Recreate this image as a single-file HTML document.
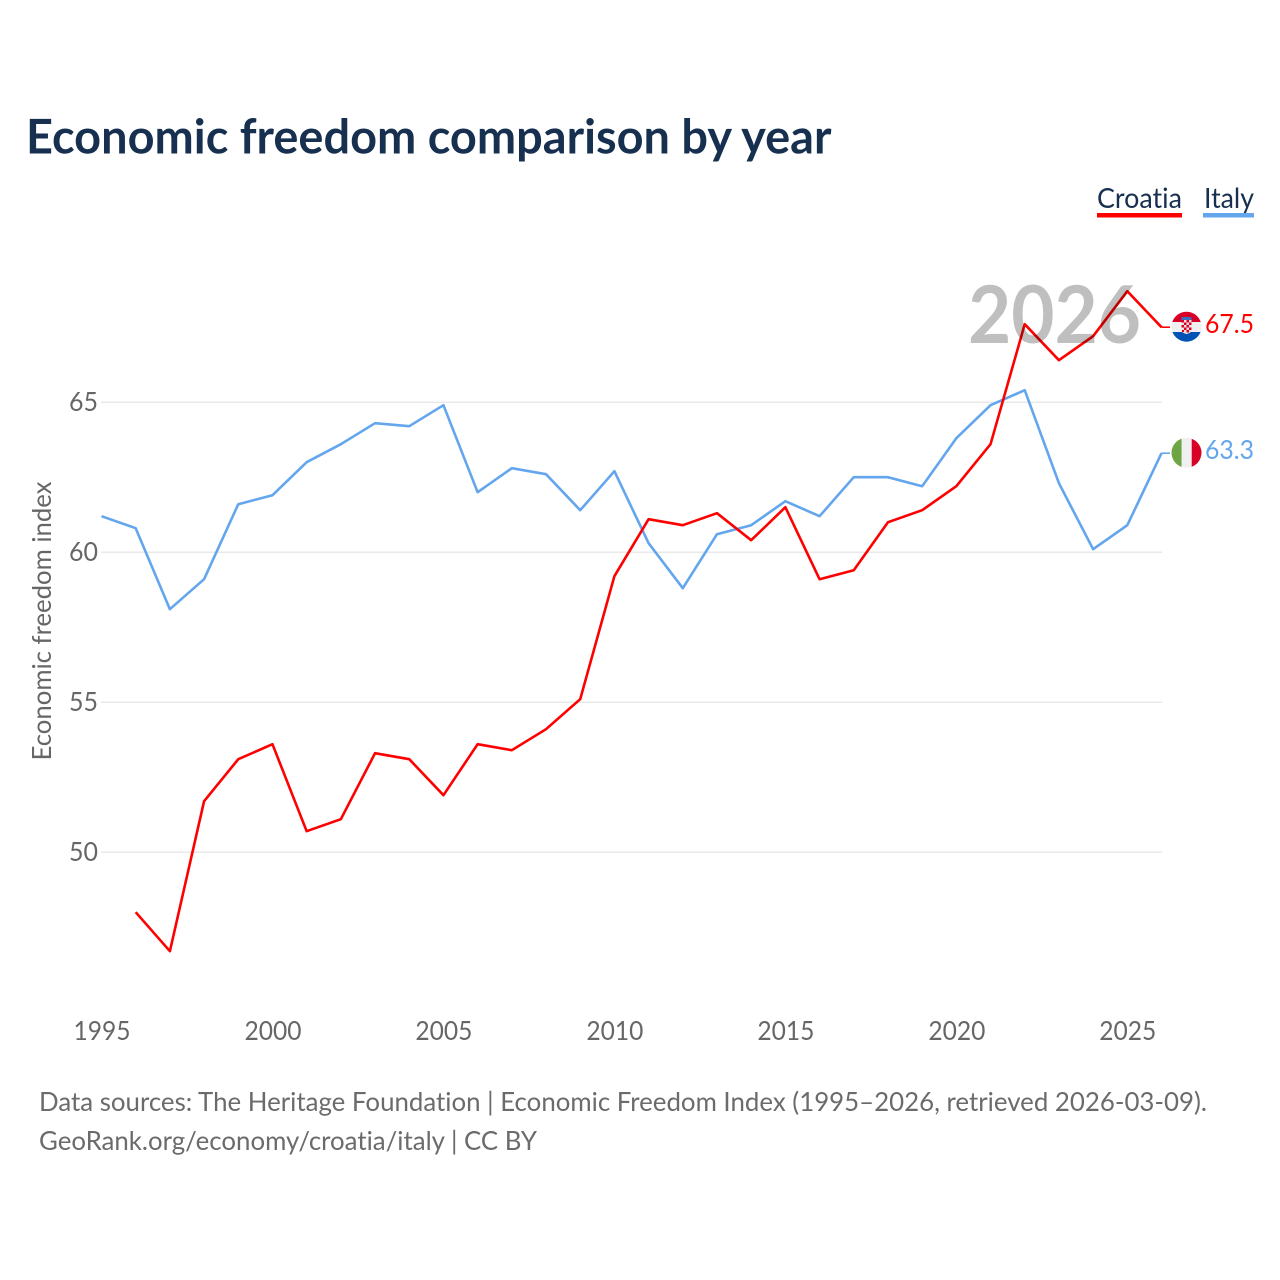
<!DOCTYPE html>
<html lang="en">
<head>
<meta charset="utf-8">
<title>Economic freedom comparison by year</title>
<style>
html,body{margin:0;padding:0;background:#fff}
svg{display:block}
text{font-family:"Lato","Carlito","Liberation Sans",sans-serif;font-variant-ligatures:none;font-feature-settings:"liga" 0,"clig" 0,"dlig" 0}
</style>
</head>
<body>
<svg id="chart" xmlns="http://www.w3.org/2000/svg" width="1280" height="1280" viewBox="0 0 1280 1280">
  <defs>
    <clipPath id="flag-clip-hr"><circle cx="1186.5" cy="326.7" r="15"/></clipPath>
    <clipPath id="flag-clip-it"><circle cx="1186.5" cy="452.8" r="15"/></clipPath>
  </defs>
  <rect width="1280" height="1280" fill="#fff"/>

  <text x="26" y="153.5" font-size="48" font-weight="700" fill="#18304f" textLength="805.5" lengthAdjust="spacingAndGlyphs">Economic freedom comparison by year</text>

  <g>
    <g>
      <text x="1097" y="208" font-size="28" fill="#18304f" textLength="85" lengthAdjust="spacingAndGlyphs">Croatia</text>
      <rect x="1097" y="213" width="85" height="4.5" fill="#ff0000"/>
    </g>
    <g>
      <text x="1204" y="208" font-size="28" fill="#18304f" textLength="50" lengthAdjust="spacingAndGlyphs">Italy</text>
      <rect x="1203" y="213" width="51" height="4.5" fill="#63a6ee"/>
    </g>
  </g>

  <g id="grid"></g>
  <g id="y-ticks"></g>
  <g id="x-ticks"></g>
  <text transform="translate(51 621) rotate(-90)" text-anchor="middle" font-size="26" fill="#666" textLength="279" lengthAdjust="spacingAndGlyphs">Economic freedom index</text>

  <g id="series"></g>

  <text x="1141" y="343" text-anchor="end" font-size="80" font-weight="700" fill="#000" fill-opacity="0.25" textLength="173" lengthAdjust="spacingAndGlyphs">2026</text>

  <g clip-path="url(#flag-clip-hr)">
    <rect x="1171" y="311" width="31" height="11" fill="#d80027"/>
    <rect x="1171" y="322" width="31" height="10" fill="#f0f0f0"/>
    <rect x="1171" y="332" width="31" height="11" fill="#0052b4"/>
    <rect x="1181.5" y="317" width="10" height="4" fill="#3a6fc0"/>
    <path d="M1181.500 320h10v10q0 3-5 4q-5-1-5-4z" fill="#f3dede"/>
    <path d="M1181.500 320h2.500v2.500h-2.500zM1186.500 320h2.500v2.500h-2.500zM1184 322.500h2.500v2.500h-2.500zM1189 322.500h2.500v2.500h-2.500zM1181.500 325h2.500v2.500h-2.500zM1186.500 325h2.500v2.500h-2.500zM1184 327.500h2.500v2.500h-2.500zM1189 327.500h2.500v2.500h-2.500zM1186.500 330h2.500v2.500h-2.500zM1182 330h2v2h-2z" fill="#d80027"/>
  </g>
  <text x="1205" y="333" font-size="26" fill="#ff0000" textLength="49" lengthAdjust="spacingAndGlyphs">67.5</text>

  <g clip-path="url(#flag-clip-it)">
    <rect x="1171" y="437" width="10.700" height="32" fill="#6da544"/>
    <rect x="1181.700" y="437" width="10" height="32" fill="#f0f0f0"/>
    <rect x="1191.700" y="437" width="11" height="32" fill="#d80027"/>
  </g>
  <text x="1205" y="459" font-size="26" fill="#63a6ee" textLength="49" lengthAdjust="spacingAndGlyphs">63.3</text>

  <text x="39" y="1111" font-size="26.500" fill="#6b6b6b" textLength="1168" lengthAdjust="spacingAndGlyphs">Data sources: The Heritage Foundation | Economic Freedom Index (1995–2026, retrieved 2026-03-09).</text>
  <text x="39" y="1150" font-size="26.500" fill="#6b6b6b" textLength="498" lengthAdjust="spacingAndGlyphs">GeoRank.org/economy/croatia/italy | CC BY</text>
</svg>
<script>
const years = [1995,1996,1997,1998,1999,2000,2001,2002,2003,2004,2005,2006,2007,2008,2009,2010,2011,2012,2013,2014,2015,2016,2017,2018,2019,2020,2021,2022,2023,2024,2025,2026];
const croatiaValues = [null,48.0,46.7,51.7,53.1,53.6,50.7,51.1,53.3,53.1,51.9,53.6,53.4,54.1,55.1,59.2,61.1,60.9,61.3,60.4,61.5,59.1,59.4,61.0,61.4,62.2,63.6,67.6,66.4,67.2,68.7,67.5];
const italyValues = [61.2,60.8,58.1,59.1,61.6,61.9,63.0,63.6,64.3,64.2,64.9,62.0,62.8,62.6,61.4,62.7,60.3,58.8,60.6,60.9,61.7,61.2,62.5,62.5,62.2,63.8,64.9,65.4,62.3,60.1,60.9,63.3];
const yTickValues = [50,55,60,65];
const xTickValues = [1995,2000,2005,2010,2015,2020,2025];

const SVG_NS = 'http://www.w3.org/2000/svg';
const xScale = function (year) { return 101.5 + (year - 1995) * (1161.5 - 101.5) / 31; };
const yScale = function (value) { return 852.2 - (value - 50) * 30; };
const gridLayer = document.getElementById('grid');
const yTickLayer = document.getElementById('y-ticks');
const xTickLayer = document.getElementById('x-ticks');
const seriesLayer = document.getElementById('series');

yTickValues.forEach(function (value) {
  const line = document.createElementNS(SVG_NS, 'line');
  
  
  line.setAttribute('x1', 101);
  line.setAttribute('x2', 1162);
  line.setAttribute('y1', yScale(value));
  line.setAttribute('y2', yScale(value));
  line.setAttribute('stroke', '#e9e9e9');
  line.setAttribute('stroke-width', 1.5);
  gridLayer.appendChild(line);

  const label = document.createElementNS(SVG_NS, 'text');
  
  
  label.setAttribute('x', 98);
  label.setAttribute('y', yScale(value) + 9);
  label.setAttribute('text-anchor', 'end');
  label.setAttribute('font-size', 26);
  label.setAttribute('fill', '#666');
  label.setAttribute('textLength', 29);
  label.setAttribute('lengthAdjust', 'spacingAndGlyphs');
  label.textContent = String(value);
  yTickLayer.appendChild(label);
});

xTickValues.forEach(function (year) {
  const label = document.createElementNS(SVG_NS, 'text');
  
  
  label.setAttribute('x', xScale(year) + 0.5);
  label.setAttribute('y', 1040);
  label.setAttribute('text-anchor', 'middle');
  label.setAttribute('font-size', 26);
  label.setAttribute('fill', '#666');
  label.setAttribute('textLength', 57);
  label.setAttribute('lengthAdjust', 'spacingAndGlyphs');
  label.textContent = String(year);
  xTickLayer.appendChild(label);
});

function buildLinePoints(values) {
  const points = [];
  values.forEach(function (value, i) {
    if (value !== null) {
      points.push(xScale(years[i]).toFixed(2) + ',' + yScale(value).toFixed(2));
    }
  });
  return points.join(' ');
}

function lastY(values) {
  return yScale(values[values.length - 1]);
}

const croatiaLine = document.createElementNS(SVG_NS, 'polyline');


croatiaLine.setAttribute('points', buildLinePoints(croatiaValues));
croatiaLine.setAttribute('fill', 'none');
croatiaLine.setAttribute('stroke', '#ff0000');
croatiaLine.setAttribute('stroke-width', 2.6);
croatiaLine.setAttribute('stroke-linejoin', 'round');

const italyLine = document.createElementNS(SVG_NS, 'polyline');


italyLine.setAttribute('points', buildLinePoints(italyValues));
italyLine.setAttribute('fill', 'none');
italyLine.setAttribute('stroke', '#63a6ee');
italyLine.setAttribute('stroke-width', 2.6);
italyLine.setAttribute('stroke-linejoin', 'round');

const croatiaConnector = document.createElementNS(SVG_NS, 'line');


croatiaConnector.setAttribute('x1', xScale(2026));
croatiaConnector.setAttribute('x2', 1170);
croatiaConnector.setAttribute('y1', lastY(croatiaValues));
croatiaConnector.setAttribute('y2', lastY(croatiaValues));
croatiaConnector.setAttribute('stroke', '#ff0000');
croatiaConnector.setAttribute('stroke-width', 1.6);

const italyConnector = document.createElementNS(SVG_NS, 'line');


italyConnector.setAttribute('x1', xScale(2026));
italyConnector.setAttribute('x2', 1170);
italyConnector.setAttribute('y1', lastY(italyValues));
italyConnector.setAttribute('y2', lastY(italyValues));
italyConnector.setAttribute('stroke', '#63a6ee');
italyConnector.setAttribute('stroke-width', 1.6);

seriesLayer.appendChild(croatiaConnector);
seriesLayer.appendChild(italyConnector);
seriesLayer.appendChild(italyLine);
seriesLayer.appendChild(croatiaLine);
</script>
</body>
</html>
